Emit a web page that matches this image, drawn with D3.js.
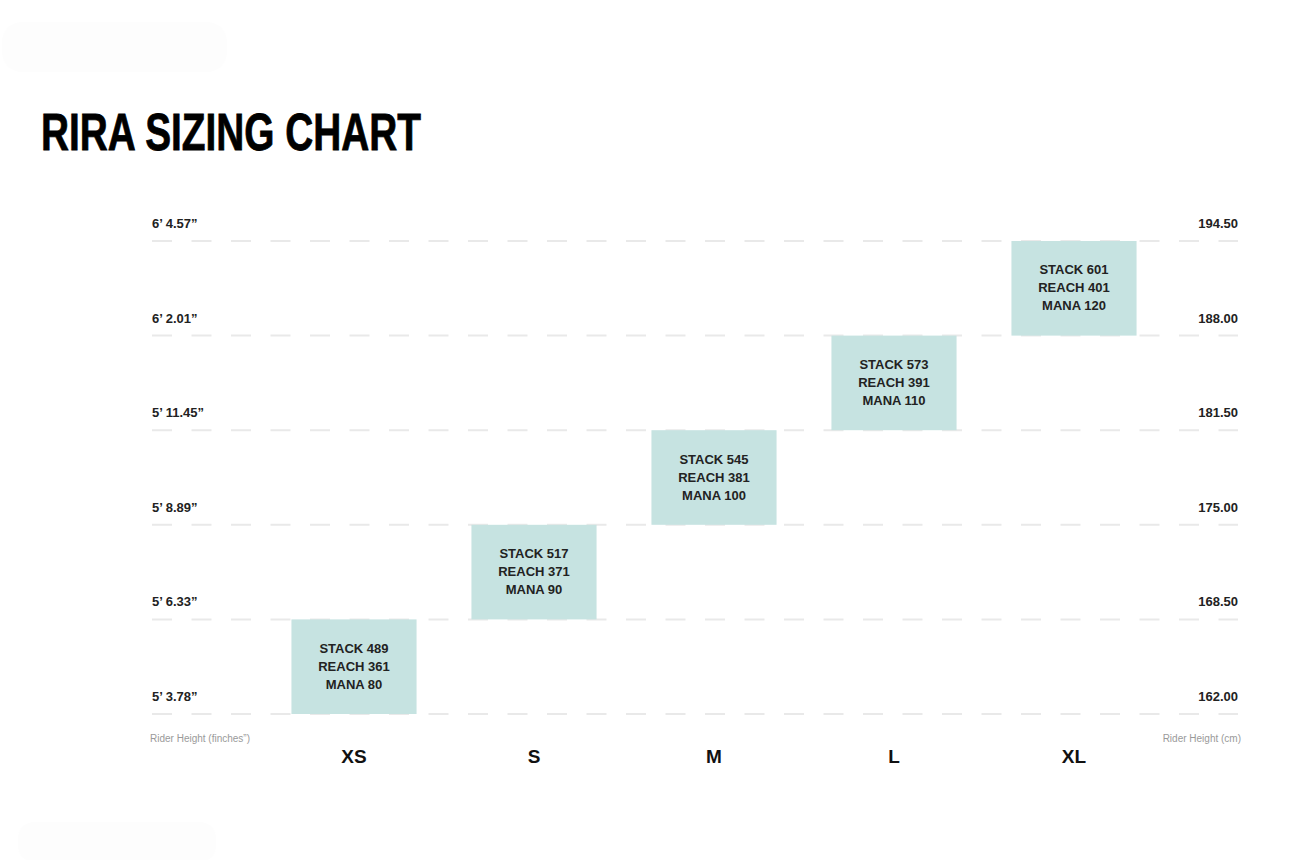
<!DOCTYPE html>
<html>
<head>
<meta charset="utf-8">
<script src="https://cdn.jsdelivr.net/npm/d3@7"></script>
<style>
  body { margin: 0; background: #fff; }
  svg { display: block; }
</style>
</head>
<body>
<svg width="1316" height="860"></svg>
<script>
var sizes = ["XS", "S", "M", "L", "XL"];
var heightLow = [162.0, 168.5, 175.0, 181.5, 188.0];
var heightHigh = [168.5, 175.0, 181.5, 188.0, 194.5];
var stack = [489, 517, 545, 573, 601];
var reach = [361, 371, 381, 391, 401];
var mana = [80, 90, 100, 110, 120];

var cmTicks = [162.0, 168.5, 175.0, 181.5, 188.0, 194.5];
var inchLabels = ["5\u2019 3.78\u201d", "5\u2019 6.33\u201d", "5\u2019 8.89\u201d",
                  "5\u2019 11.45\u201d", "6\u2019 2.01\u201d", "6\u2019 4.57\u201d"];

var svg = d3.select("svg");

var xScale = d3.scaleBand().domain(sizes).range([264, 1164]).paddingInner(0.305).paddingOuter(0.1525);
var yScale = d3.scaleLinear().domain([162, 194.5]).range([714, 241]);

// faint smudges from the original scan
svg.append("rect").attr("x", 2).attr("y", 22).attr("width", 225).attr("height", 50)
    .attr("rx", 20).attr("fill", "#fdfdfd");
svg.append("rect").attr("x", 18).attr("y", 822).attr("width", 198).attr("height", 40)
    .attr("rx", 16).attr("fill", "#fdfdfd");

// Title
svg.append("text")
    .attr("x", 41)
    .attr("y", 150)
    .attr("textLength", 380)
    .attr("lengthAdjust", "spacingAndGlyphs")
    .style("font-family", "'Liberation Sans', Arial, sans-serif")
    .style("font-weight", "bold")
    .style("font-size", "52px")
    .style("fill", "#000")
    .style("stroke", "#000")
    .style("stroke-width", 0.8)
    .text("RIRA SIZING CHART");

// Gridlines
svg.append("g").selectAll("line")
    .data(cmTicks)
    .join("line")
    .attr("x1", 152)
    .attr("x2", 1238)
    .attr("y1", d => yScale(d))
    .attr("y2", d => yScale(d))
    .attr("stroke", "#e9e9e9")
    .attr("stroke-width", 2)
    .attr("stroke-dasharray", "20 19.5");

// Left labels (inches)
svg.append("g").selectAll("text")
    .data(cmTicks)
    .join("text")
    .attr("x", 152)
    .attr("y", d => yScale(d) - 13)
    .style("font-family", "'Liberation Sans', Arial, sans-serif")
    .style("font-weight", "bold")
    .style("font-size", "13px")
    .style("fill", "#222")
    .text((d, i) => inchLabels[i]);

// Right labels (cm)
svg.append("g").selectAll("text")
    .data(cmTicks)
    .join("text")
    .attr("x", 1238)
    .attr("y", d => yScale(d) - 13)
    .attr("text-anchor", "end")
    .style("font-family", "'Liberation Sans', Arial, sans-serif")
    .style("font-weight", "bold")
    .style("font-size", "13px")
    .style("fill", "#222")
    .text(d => d.toFixed(2));

// Size boxes
var boxes = svg.append("g").selectAll("g")
    .data(sizes)
    .join("g");

boxes.append("rect")
    .attr("x", d => xScale(d))
    .attr("width", xScale.bandwidth())
    .attr("y", (d, i) => yScale(heightHigh[i]))
    .attr("height", (d, i) => yScale(heightLow[i]) - yScale(heightHigh[i]))
    .attr("fill", "#c6e3e1");

boxes.each(function (d, i) {
    var cx = xScale(d) + xScale.bandwidth() / 2;
    var cy = (yScale(heightHigh[i]) + yScale(heightLow[i])) / 2;
    var lines = ["STACK " + stack[i], "REACH " + reach[i], "MANA " + mana[i]];
    d3.select(this).selectAll("text.spec")
        .data(lines)
        .join("text")
        .attr("class", "spec")
        .attr("x", cx)
        .attr("y", (t, j) => cy + (j - 1) * 18 + 4)
        .attr("text-anchor", "middle")
        .style("font-family", "'Liberation Sans', Arial, sans-serif")
        .style("font-weight", "bold")
        .style("font-size", "13px")
        .style("fill", "#222")
        .text(t => t);
});

// Size labels
svg.append("g").selectAll("text")
    .data(sizes)
    .join("text")
    .attr("x", d => xScale(d) + xScale.bandwidth() / 2)
    .attr("y", 763)
    .attr("text-anchor", "middle")
    .style("font-family", "'Liberation Sans', Arial, sans-serif")
    .style("font-weight", "bold")
    .style("font-size", "19px")
    .style("fill", "#111")
    .text(d => d);

// Axis captions
svg.append("text")
    .attr("x", 150)
    .attr("y", 742)
    .style("font-family", "'Liberation Sans', Arial, sans-serif")
    .style("font-size", "10px")
    .style("fill", "#9a9a9a")
    .text("Rider Height (finches\u201d)");

svg.append("text")
    .attr("x", 1241)
    .attr("y", 742)
    .attr("text-anchor", "end")
    .style("font-family", "'Liberation Sans', Arial, sans-serif")
    .style("font-size", "10px")
    .style("fill", "#9a9a9a")
    .text("Rider Height (cm)");
</script>
</body>
</html>
